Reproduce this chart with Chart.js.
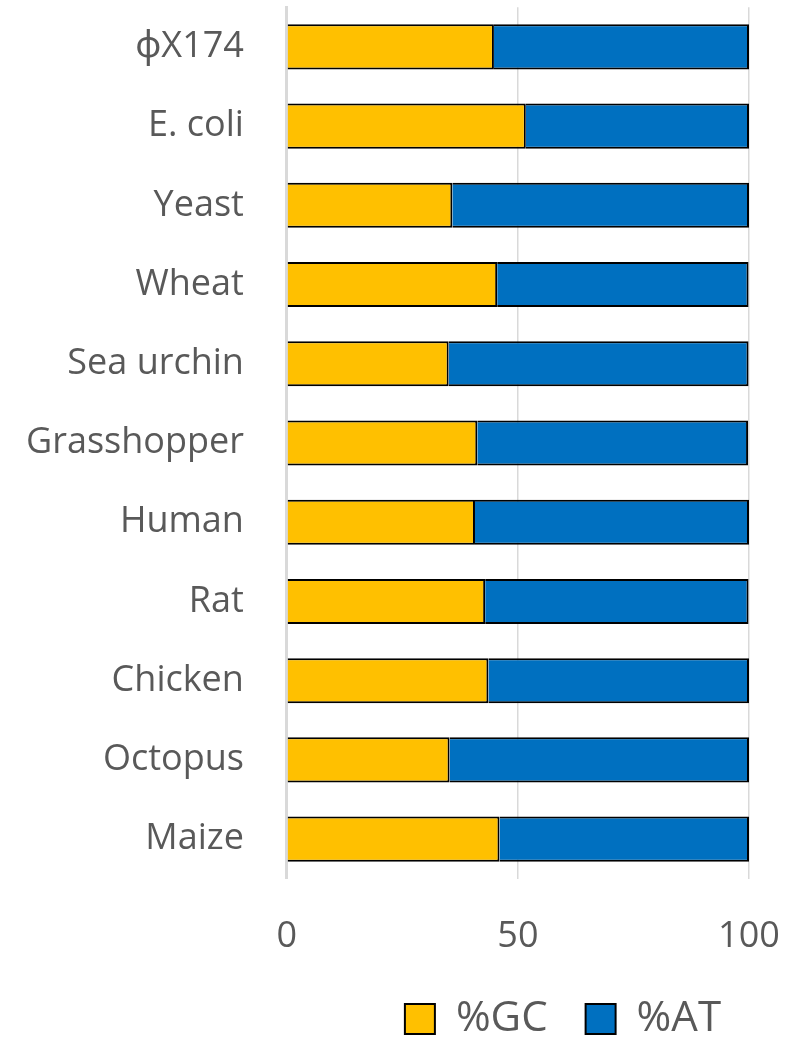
<!DOCTYPE html>
<html>
<head>
<meta charset="utf-8">
<script src="https://cdn.jsdelivr.net/npm/chart.js@4"></script>
<style>
  html, body { margin: 0; padding: 0; background: #fff; }
  #wrap { width: 794px; height: 1038px; }
</style>
</head>
<body>
<div id="wrap"><canvas id="base-chart" width="794" height="1038"></canvas></div>
<script>
// Base composition of DNA by organism (percent)
const organisms = ['ϕX174', 'E. coli', 'Yeast', 'Wheat', 'Sea urchin', 'Grasshopper', 'Human', 'Rat', 'Chicken', 'Octopus', 'Maize'];
const gcPercent = [44.8, 51.7, 35.8, 45.5, 35.0, 41.2, 40.7, 42.9, 43.6, 35.2, 46.0];
const atPercent = [55.2, 48.3, 64.2, 54.4, 64.9, 58.6, 59.3, 57.0, 56.4, 64.8, 54.0];
const xTicks = [0, 50, 100];

const textColor = '#595959';
const gridColor = '#d9d9d9';
const fontFamily = '"Open Sans", "Noto Sans", sans-serif';

// Slide the legend over to sit under the plot instead of the whole canvas
const legendShift = {
  id: 'legendShift',
  afterLayout(chart) {
    const legend = chart.legend;
    if (!legend) return;
    const dx = (chart.chartArea.left + chart.chartArea.right) / 2 - (legend.left + legend.right) / 2 + 45;
    legend.left += dx;
    legend.right += dx;
    legend.top -= 7;
    legend.bottom -= 7;
  }
};

new Chart(document.getElementById('base-chart'), {
  type: 'bar',
  data: {
    labels: organisms,
    datasets: [
      {
        label: '%GC',
        data: gcPercent,
        backgroundColor: '#FFC000',
        borderColor: '#000000',
        borderWidth: 2,
        barPercentage: 0.57,
        categoryPercentage: 1
      },
      {
        label: '%AT',
        data: atPercent,
        backgroundColor: '#0070C0',
        borderColor: '#000000',
        borderWidth: 2,
        barPercentage: 0.57,
        categoryPercentage: 1
      }
    ]
  },
  options: {
    indexAxis: 'y',
    responsive: false,
    animation: false,
    // negative bottom lets the legend's own padding run off the canvas edge
    layout: { padding: { top: 7, right: 45, bottom: -19, left: 26 } },
    scales: {
      x: {
        stacked: true,
        min: 0,
        max: 100,
        afterBuildTicks: (axis) => { axis.ticks = xTicks.map(v => ({ value: v })); },
        afterFit: (axis) => { axis.height += 9; },
        grid: { color: gridColor, lineWidth: 1.5, drawTicks: true, tickLength: 36, tickColor: 'rgba(0,0,0,0)' },
        border: { display: false },
        ticks: {
          color: textColor,
          padding: 0,
          maxRotation: 0,
          font: { family: fontFamily, size: 36 }
        }
      },
      y: {
        stacked: true,
        grid: { display: false, drawTicks: true, tickLength: 43, tickColor: 'rgba(0,0,0,0)' },
        border: { color: gridColor, width: 3 },
        ticks: {
          color: textColor,
          padding: 0,
          font: { family: fontFamily, size: 36, lineHeight: 0.4 }
        }
      }
    },
    plugins: {
      tooltip: { enabled: false },
      legend: {
        position: 'bottom',
        labels: {
          color: textColor,
          boxWidth: 30,
          boxHeight: 30,
          padding: 38,
          font: { family: fontFamily, size: 42 }
        }
      }
    }
  },
  plugins: [legendShift]
});
</script>
</body>
</html>
